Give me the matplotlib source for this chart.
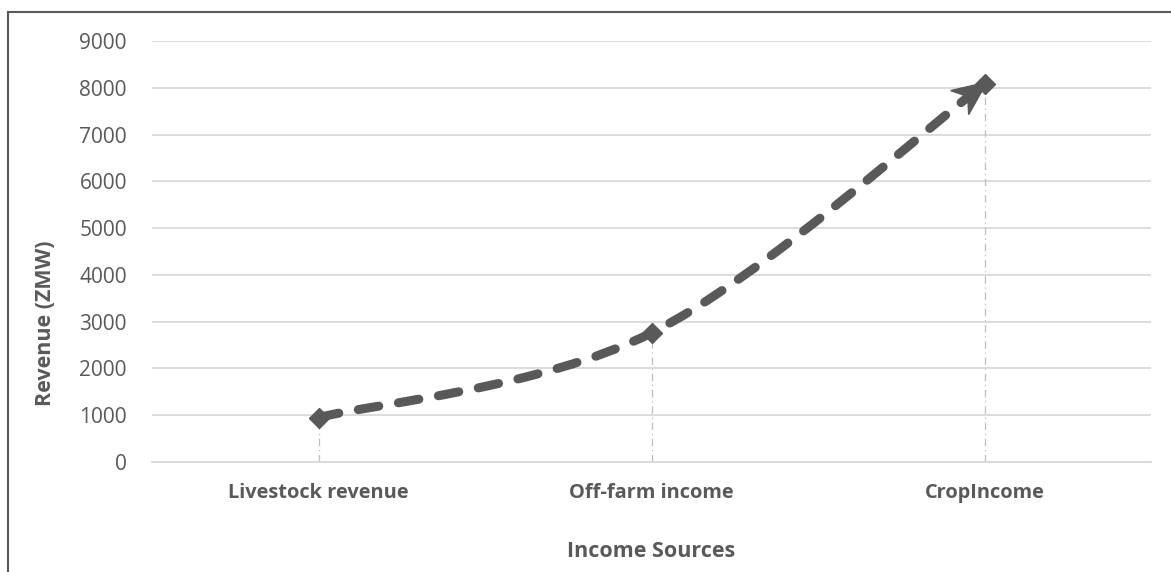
import matplotlib
matplotlib.use("Agg")
import matplotlib.pyplot as plt
from matplotlib.path import Path
from matplotlib.patches import PathPatch, Polygon
from matplotlib.lines import Line2D
import numpy as np

categories = ["Livestock revenue", "Off-farm income", "CropIncome"]
revenue = [950, 2760, 8080]
yticks = [0, 1000, 2000, 3000, 4000, 5000, 6000, 7000, 8000, 9000]

plt.rcParams['font.family'] = ['Open Sans', 'DejaVu Sans']
TXT = '#595959'
LINE = '#595959'
GRID = '#d9d9d9'

W, H = 1171, 572
fig = plt.figure(figsize=(W/100, H/100), dpi=100)
ax = fig.add_axes([152/W, 1-462/H, (1151-152)/W, (462-41)/H])

x = np.arange(len(categories), dtype=float)
y = np.array(revenue, dtype=float)
ax.set_xlim(-0.5, len(categories)-0.5)
ax.set_ylim(0, 9000)

# grid
ax.set_yticks(yticks)
ax.yaxis.grid(True, color=GRID, lw=1.3)
ax.set_axisbelow(True)
for s in ['left', 'right', 'top']:
    ax.spines[s].set_visible(False)
ax.spines['bottom'].set_color(GRID)
ax.spines['bottom'].set_linewidth(1.3)
ax.tick_params(length=0, colors=TXT)
ax.tick_params(axis='y', labelsize=15, pad=18)
ax.set_xticks(x)
ax.set_xticklabels(categories, fontsize=14.4, fontweight='bold', color=TXT)
ax.tick_params(axis='x', pad=15)
for lbl in ax.get_yticklabels():
    lbl.set_color(TXT)

# drop lines
for xi, yi in zip(x, y):
    ax.plot([xi, xi], [0, yi], color='#bfbfbf', lw=0.9, ls=(0, (6, 3, 1, 3)), zorder=1)

# smoothed curve (Catmull-Rom style Bezier)
pts = np.column_stack([x, y])
verts = [tuple(pts[0])]
codes = [Path.MOVETO]
n = len(pts)
for i in range(n-1):
    p0 = pts[i-1] if i > 0 else pts[i]
    p1 = pts[i]
    p2 = pts[i+1]
    p3 = pts[i+2] if i+2 < n else pts[i+1]
    c1 = p1 + (p2 - p0)/6
    c2 = p2 - (p3 - p1)/6
    verts += [tuple(c1), tuple(c2), tuple(p2)]
    codes += [Path.CURVE4]*3
path = Path(verts, codes)
patch = PathPatch(path, facecolor='none', edgecolor=LINE, lw=6.5,
                  linestyle=(0, (2.3, 2.2)), capstyle='round', joinstyle='round', zorder=3)
ax.add_patch(patch)

# stealth arrow head at the end (computed in pixel space)
cend = ax.transData.transform(verts[-2])
pend = ax.transData.transform(verts[-1])
d = pend - cend
d = d/np.hypot(*d)
nrm = np.array([-d[1], d[0]])
L, hw = 34.0, 15.0
tip = pend + 3*d
head_px = np.array([tip,
                    tip - L*d + hw*nrm,
                    tip - 0.7*L*d,
                    tip - L*d - hw*nrm])
head = ax.transData.inverted().transform(head_px)
ax.add_patch(Polygon(head, closed=True, facecolor=LINE, edgecolor=LINE, lw=1, zorder=4))

ax.plot(x, y, ls='none', marker='D', ms=10, color=LINE, zorder=5)

ax.set_xlabel('Income Sources', fontsize=15.5, fontweight='bold', color=TXT)
ax.xaxis.set_label_coords(0.5, (462-541)/(462-41), transform=ax.transAxes)
ax.set_ylabel('Revenue (ZMW)', fontsize=15.5, fontweight='bold', color=TXT)
ax.yaxis.set_label_coords((56-152)/(1151-152), (462-323)/(462-41), transform=ax.transAxes)

# outer frame (left and top)
fig.add_artist(Line2D([7.5/W, 7.5/W], [0, 1-12/H], color='#595959', lw=1.5, transform=fig.transFigure))
fig.add_artist(Line2D([7.5/W, 1], [1-12/H, 1-12/H], color='#595959', lw=1.5, transform=fig.transFigure))

fig.savefig('out.png', dpi=100, facecolor='white')
